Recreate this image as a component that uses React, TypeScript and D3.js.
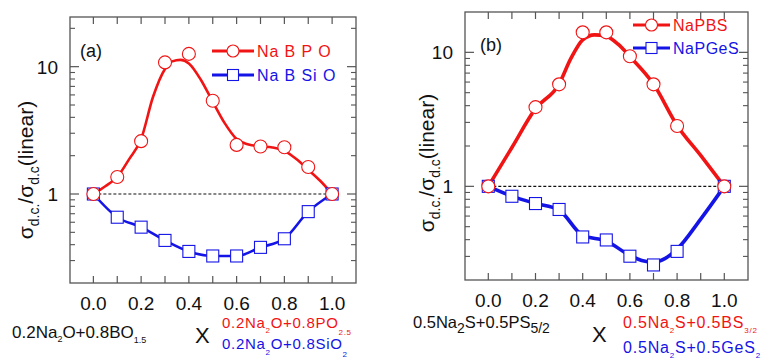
import * as d3 from "d3";

const FONT = "Arial, 'Liberation Sans', sans-serif";
const RED = "#f01414";
const BLUE = "#1414e6";

// x axis
const xMinorTicks = [0, 0.1, 0.2, 0.3, 0.4, 0.5, 0.6, 0.7, 0.8, 0.9, 1.0];
const xMajorTicks = [0, 0.2, 0.4, 0.6, 0.8, 1.0];
const xTickLabels = ["0.0", "0.2", "0.4", "0.6", "0.8", "1.0"];
const yMajorTicks = [1, 10];
const yTickLabels = ["1", "10"];
const yMinorTicks = [0.2, 0.3, 0.4, 0.5, 0.6, 0.7, 0.8, 0.9, 2, 3, 4, 5, 6, 7, 8, 9, 20];

// panel (a): Na B P O / Na B Si O
const aX = [0, 0.1, 0.2, 0.3, 0.4, 0.5, 0.6, 0.7, 0.8, 0.9, 1.0];
const aRed = [1, 1.36, 2.6, 10.8, 12.6, 5.4, 2.43, 2.36, 2.33, 1.63, 1];
const aBlue = [1, 0.657, 0.549, 0.432, 0.354, 0.326, 0.326, 0.381, 0.445, 0.727, 1];
const aRedFitX = [0, 0.05, 0.1, 0.15, 0.2, 0.25, 0.3, 0.33, 0.365, 0.4, 0.45, 0.5, 0.55, 0.6, 0.65, 0.7, 0.75, 0.8, 0.85, 0.9, 0.95, 1.0];
const aRedFitY = [1, 1.15, 1.36, 1.88, 2.7, 5.8, 9.6, 11.0, 11.3, 10.6, 7.9, 5.3, 3.6, 2.7, 2.45, 2.37, 2.32, 2.18, 1.88, 1.55, 1.27, 1];

// panel (b): NaPBS / NaPGeS
const bRedX = [0, 0.2, 0.3, 0.4, 0.5, 0.6, 0.7, 0.8, 1.0];
const bRed = [1, 3.9, 5.77, 14.1, 14.1, 9.34, 5.77, 2.82, 1];
const bBlueX = [0, 0.1, 0.2, 0.3, 0.4, 0.5, 0.6, 0.7, 0.8, 1.0];
const bBlue = [1, 0.843, 0.744, 0.672, 0.419, 0.398, 0.301, 0.259, 0.327, 1];
const bRedFitX = [0, 0.1, 0.2, 0.3, 0.35, 0.4, 0.45, 0.5, 0.55, 0.6, 0.7, 0.8, 0.9, 1.0];
const bRedFitY = [1, 1.95, 3.8, 5.8, 9.0, 12.4, 13.5, 13.2, 11.5, 9.3, 5.8, 2.85, 1.7, 1];
const bBlueFitX = [0, 0.1, 0.2, 0.3, 0.4, 0.5, 0.6, 0.65, 0.7, 0.75, 0.8, 0.9, 1.0];
const bBlueFitY = [1, 0.845, 0.745, 0.665, 0.43, 0.39, 0.305, 0.28, 0.272, 0.29, 0.34, 0.57, 1];

type Seg = { t: string; sub?: boolean; size?: number; shift?: number };

function Rich({ x, y, segs, size, fill, ls = 0, anchor = "start", transform }: any) {
  let cur = 0;
  return (
    <text x={x} y={y} fontFamily={FONT} fontSize={size} fill={fill} letterSpacing={ls} textAnchor={anchor} transform={transform}>
      {segs.map((s: Seg, i: number) => {
        const target = s.sub ? (s.shift ?? size * 0.3) : 0;
        const dy = target - cur;
        cur = target;
        return (
          <tspan key={i} dy={dy} fontSize={s.sub ? (s.size ?? size * 0.55) : size}>
            {s.t}
          </tspan>
        );
      })}
    </text>
  );
}

function Panel({ frame, xRange, yDomain, yRange, label, labelPos, red, blue, legend, yLabelX, titlePos, lineW, mk }: any) {
  const x = d3.scaleLinear().domain([-0.1, 1.1]).range(xRange);
  const y = d3.scaleLog().domain(yDomain).range(yRange);
  const line = d3
    .line<[number, number]>()
    .x((d) => x(d[0]))
    .y((d) => y(d[1]))
    .curve(d3.curveMonotoneX);
  const [L, R, T, B] = frame;
  const redFit: [number, number][] = red.fitX.map((v: number, i: number) => [v, red.fitY[i]]);
  const blueFit: [number, number][] = blue.fitX.map((v: number, i: number) => [v, blue.fitY[i]]);
  const minors = yMinorTicks.filter((v) => y(v) > T + 1 && y(v) < B - 1);
  const title: Seg[] = [
    { t: "σ" },
    { t: "d.c.", sub: true, size: 14, shift: 6 },
    { t: "/σ" },
    { t: "d.c", sub: true, size: 14, shift: 6 },
    { t: "(linear)" },
  ];
  return (
    <g>
      <rect x={L} y={T} width={R - L} height={B - T} fill="none" stroke="#555" strokeWidth={1.3} />
      {xMinorTicks.map((v) => (
        <g key={"xt" + v} stroke="#555" strokeWidth={1.2}>
          <line x1={x(v)} x2={x(v)} y1={B} y2={B - 7} />
          <line x1={x(v)} x2={x(v)} y1={T} y2={T + 7} />
        </g>
      ))}
      {xMajorTicks.map((v, i) => (
        <text key={"xl" + v} x={x(v)} y={B + 27} textAnchor="middle" fontFamily={FONT} fontSize={19} fill="#111">
          {xTickLabels[i]}
        </text>
      ))}
      {yMajorTicks.map((v, i) => (
        <g key={"ym" + v}>
          <g stroke="#555" strokeWidth={1.2}>
            <line x1={L} x2={L + 9} y1={y(v)} y2={y(v)} />
            <line x1={R} x2={R - 9} y1={y(v)} y2={y(v)} />
          </g>
          <text x={yLabelX} y={y(v) + 7} textAnchor="end" fontFamily={FONT} fontSize={19} fill="#111">
            {yTickLabels[i]}
          </text>
        </g>
      ))}
      {minors.map((v) => (
        <g key={"yn" + v} stroke="#555" strokeWidth={1.1}>
          <line x1={L} x2={L + 5} y1={y(v)} y2={y(v)} />
          <line x1={R} x2={R - 5} y1={y(v)} y2={y(v)} />
        </g>
      ))}
      <line x1={x(0)} x2={x(1)} y1={y(1)} y2={y(1)} stroke="#111" strokeWidth={1.1} strokeDasharray="3,2" />
      <path d={line(redFit) || ""} fill="none" stroke={RED} strokeWidth={lineW} />
      <path d={line(blueFit) || ""} fill="none" stroke={BLUE} strokeWidth={lineW} />
      {blue.x.map((v: number, i: number) => (
        <rect key={"bq" + i} x={x(v) - mk} y={y(blue.y[i]) - mk} width={mk * 2} height={mk * 2} fill="#fff" stroke={BLUE} strokeWidth={1.1} />
      ))}
      {red.x.map((v: number, i: number) => (
        <circle key={"rc" + i} cx={x(v)} cy={y(red.y[i])} r={mk + 0.5} fill="#fff" stroke={RED} strokeWidth={1.1} />
      ))}
      <text x={labelPos[0]} y={labelPos[1]} fontFamily={FONT} fontSize={18} fill="#111">
        {label}
      </text>
      {legend.map((lg: any, i: number) => (
        <g key={"lg" + i}>
          <line x1={lg.x0} x2={lg.x1} y1={lg.y} y2={lg.y} stroke={lg.color} strokeWidth={3} />
          {lg.shape === "circle" ? (
            <circle cx={(lg.x0 + lg.x1) / 2} cy={lg.y} r={mk} fill="#fff" stroke={lg.color} strokeWidth={1.1} />
          ) : (
            <rect x={(lg.x0 + lg.x1) / 2 - mk + 0.5} y={lg.y - mk + 0.5} width={mk * 2 - 1} height={mk * 2 - 1} fill="#fff" stroke={lg.color} strokeWidth={1.1} />
          )}
          <text x={lg.x1 + 3} y={lg.y + 6} fontFamily={FONT} fontSize={16} fill={lg.color} letterSpacing={lg.ls}>
            {lg.text}
          </text>
        </g>
      ))}
      <Rich
        x={0}
        y={0}
        segs={title}
        size={21}
        fill="#111"
        anchor="middle"
        transform={`translate(${titlePos[0]},${titlePos[1]}) rotate(-90)`}
      />
    </g>
  );
}

export default function App() {
  return (
    <svg width={763} height={360} style={{ position: "absolute", left: 0, top: 0, background: "#fff" }}>
      <Panel
        frame={[70, 356, 17, 283]}
        xRange={[69.5, 356]}
        yDomain={[0.2, 25]}
        yRange={[283, 16]}
        label="(a)"
        labelPos={[80, 57]}
        yLabelX={58}
        titlePos={[33, 170]}
        lineW={2.6}
        mk={6}
        red={{ x: aX, y: aRed, fitX: aRedFitX, fitY: aRedFitY }}
        blue={{ x: aX, y: aBlue, fitX: aX, fitY: aBlue }}
        legend={[
          { x0: 212, x1: 254, y: 51, color: RED, shape: "circle", text: "Na B P O", ls: 0.9 },
          { x0: 212, x1: 254, y: 75, color: BLUE, shape: "square", text: "Na B Si O", ls: 0.9 },
        ]}
      />
      <Panel
        frame={[465, 748, 12, 280]}
        xRange={[464.7, 747.9]}
        yDomain={[0.2, 20]}
        yRange={[280, 12]}
        label="(b)"
        labelPos={[480, 51]}
        yLabelX={453}
        titlePos={[434, 163]}
        lineW={3.6}
        mk={6}
        red={{ x: bRedX, y: bRed, fitX: bRedFitX, fitY: bRedFitY }}
        blue={{ x: bBlueX, y: bBlue, fitX: bBlueFitX, fitY: bBlueFitY }}
        legend={[
          { x0: 633, x1: 670, y: 25, color: RED, shape: "circle", text: "NaPBS", ls: 0.5 },
          { x0: 633, x1: 670, y: 48, color: BLUE, shape: "square", text: "NaPGeS", ls: 0.5 },
        ]}
      />
      {/* composition labels */}
      <Rich
        x={12}
        y={338}
        size={17}
        fill="#111"
        segs={[
          { t: "0.2Na" },
          { t: "2", sub: true, size: 9, shift: 4 },
          { t: "O+0.8BO" },
          { t: "1.5", sub: true, size: 9, shift: 5 },
        ]}
      />
      <text x={195} y={343} fontFamily={FONT} fontSize={22} fill="#111">X</text>
      <Rich
        x={222}
        y={328}
        size={15}
        ls={0.7}
        fill={RED}
        segs={[
          { t: "0.2Na" },
          { t: "2", sub: true, size: 8, shift: 5 },
          { t: "O+0.8PO" },
          { t: "2.5", sub: true, size: 8, shift: 7 },
        ]}
      />
      <Rich
        x={222}
        y={349}
        size={15}
        ls={0.7}
        fill={BLUE}
        segs={[
          { t: "0.2Na" },
          { t: "2", sub: true, size: 8, shift: 6 },
          { t: "O+0.8SiO" },
          { t: "2", sub: true, size: 8, shift: 8 },
        ]}
      />
      <Rich
        x={413}
        y={328}
        size={16.5}
        fill="#111"
        segs={[
          { t: "0.5Na" },
          { t: "2", sub: true, size: 14, shift: 5 },
          { t: "S+0.5PS" },
          { t: "5/2", sub: true, size: 14, shift: 5 },
        ]}
      />
      <text x={592} y={342} fontFamily={FONT} fontSize={22} fill="#111">X</text>
      <Rich
        x={623}
        y={328}
        size={16}
        fill={RED}
        ls={0.8}
        segs={[
          { t: "0.5Na" },
          { t: "2", sub: true, size: 8, shift: 5 },
          { t: "S+0.5BS" },
          { t: "3/2", sub: true, size: 8, shift: 5 },
        ]}
      />
      <Rich
        x={623}
        y={353}
        size={16}
        fill={BLUE}
        ls={0.8}
        segs={[
          { t: "0.5Na" },
          { t: "2", sub: true, size: 8, shift: 5 },
          { t: "S+0.5GeS" },
          { t: "2", sub: true, size: 8, shift: 5 },
        ]}
      />
    </svg>
  );
}
